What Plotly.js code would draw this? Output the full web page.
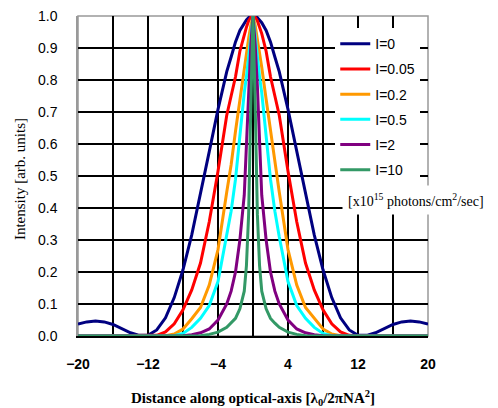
<!DOCTYPE html>
<html>
<head>
<meta charset="utf-8">
<script src="https://cdn.plot.ly/plotly-3.0.1.min.js"></script>
<style>html,body{margin:0;padding:0;background:#fff;}#chart{width:498px;height:408px;}</style>
</head>
<body>
<div id="chart"></div>
<script>
// Distance along optical axis
const distance = [-20,-19,-18,-17,-16,-15,-14,-13,-12,-11,-10,-9,-8,-7,-6,-5,-4,-3,-2.5,-2,-1.5,-1,-0.75,-0.5,-0.25,
  0,
  0.25,0.5,0.75,1,1.5,2,2.5,3,4,5,6,7,8,9,10,11,12,13,14,15,16,17,18,19,20];

const seriesNames = ["I=0","I=0.05","I=0.2","I=0.5","I=2","I=10"];

const intensityI0 = [0.037,0.044,0.047,0.044,0.036,0.023,0.010,0.002,0.002,0.019,0.057,0.120,0.207,0.316,0.442,0.576,0.708,0.826,0.872,0.919,0.955,0.979,0.988,0.995,0.999,
  1.0,
  0.999,0.995,0.988,0.979,0.955,0.919,0.872,0.826,0.708,0.576,0.442,0.316,0.207,0.120,0.057,0.019,0.002,0.002,0.010,0.023,0.036,0.044,0.047,0.044,0.037];

const intensityI005 = [0,0,0,0,0,0,0,0,0,0.002,0.013,0.038,0.082,0.144,0.228,0.357,0.515,0.69,0.75,0.81,0.89,0.945,0.965,0.985,0.996,
  1.0,
  0.996,0.985,0.965,0.945,0.89,0.81,0.75,0.69,0.515,0.357,0.228,0.144,0.082,0.038,0.013,0.002,0,0,0,0,0,0,0,0,0];

const intensityI02 = [0,0,0,0,0,0,0,0,0,0,0.001,0.006,0.022,0.054,0.089,0.159,0.27,0.45,0.535,0.64,0.74,0.84,0.89,0.93,0.97,
  1.0,
  0.97,0.93,0.89,0.84,0.74,0.64,0.535,0.45,0.27,0.159,0.089,0.054,0.022,0.006,0.001,0,0,0,0,0,0,0,0,0,0];

const intensityI05 = [0,0,0,0,0,0,0,0,0,0,0,0.001,0.008,0.027,0.055,0.095,0.17,0.31,0.39,0.49,0.63,0.76,0.81,0.87,0.94,
  1.0,
  0.94,0.87,0.81,0.76,0.63,0.49,0.39,0.31,0.17,0.095,0.055,0.027,0.008,0.001,0,0,0,0,0,0,0,0,0,0,0];

const intensityI2 = [0,0,0,0,0,0,0,0,0,0,0,0,0.001,0.004,0.01,0.022,0.05,0.1,0.14,0.2,0.3,0.44,0.6,0.78,0.91,
  1.0,
  0.91,0.78,0.6,0.44,0.3,0.2,0.14,0.1,0.05,0.022,0.01,0.004,0.001,0,0,0,0,0,0,0,0,0,0,0,0];

const intensityI10 = [0,0,0,0,0,0,0,0,0,0,0,0,0,0,0.001,0.005,0.012,0.027,0.04,0.055,0.085,0.14,0.22,0.38,0.72,
  1.0,
  0.72,0.38,0.22,0.14,0.085,0.055,0.04,0.027,0.012,0.005,0.001,0,0,0,0,0,0,0,0,0,0,0,0,0,0];

const seriesColors = ["#000080","#ff0000","#ff9900","#00ffff","#800080","#339966"];
const allSeries = [intensityI0,intensityI005,intensityI02,intensityI05,intensityI2,intensityI10];

const xTickVals = [-20,-16,-12,-8,-4,0,4,8,12,16,20];
const xTickText = ["\u221220","","\u221212","","\u22124","","4","","12","","20"];

const traces = allSeries.map((ys,i)=>({
  x: distance, y: ys, type:'scatter', mode:'lines', name: seriesNames[i],
  legendgroup: 'g'+i,
  line:{color: seriesColors[i], width:3}
}));

const layout = {
  width:498, height:408,
  margin:{l:78, r:70, t:16, b:72},
  paper_bgcolor:'#fff', plot_bgcolor:'#fff',
  showlegend:true,
  legend:{x:0.735, y:0.962, xanchor:'left', yanchor:'top', bgcolor:'#fff', borderwidth:0,
    font:{family:'Arial, Liberation Sans', size:14, color:'#000'}, tracegroupgap:4, itemwidth:30},
  xaxis:{range:[-20,20], tickmode:'array', tickvals:xTickVals, ticktext:xTickText,
    showgrid:true, gridcolor:'#000', gridwidth:1.5, zeroline:true, zerolinecolor:'#000', zerolinewidth:1.5,
    showline:true, linecolor:'#000', linewidth:1.5,
    ticks:'outside', ticklen:14, tickcolor:'rgba(0,0,0,0)',
    tickfont:{family:'Arial, Liberation Sans', size:14, color:'#000', weight:'bold'},
    title:{text:'Distance along optical-axis [\u03bb<sub>0</sub>/2\u03c0NA<sup>2</sup>]',
      font:{family:'Liberation Serif, Times New Roman', size:15, color:'#000', weight:'bold'}, standoff:22}
  },
  yaxis:{range:[0,1.0], dtick:0.1, tick0:0, tickformat:'.1f',
    showgrid:true, gridcolor:'#000', gridwidth:1.5, zeroline:false,
    showline:true, linecolor:'#999', linewidth:1.5,
    ticks:'outside', ticklen:16, tickcolor:'rgba(0,0,0,0)',
    tickfont:{family:'Arial, Liberation Sans', size:14, color:'#000'}
  },
  shapes:[{type:'rect', xref:'paper', yref:'paper', x0:0, x1:1, y0:0, y1:1, line:{color:'#999', width:1.5}, layer:'below'}],
  annotations:[
    {text:'Intensity [arb. units]', textangle:-90, xref:'paper', yref:'paper', x:-0.166, y:0.49,
      xanchor:'center', yanchor:'middle', showarrow:false,
      font:{family:'Liberation Serif, Times New Roman', size:15, color:'#000'}},
    {text:'[x10<sup>15</sup> photons/cm<sup>2</sup>/sec]', xref:'paper', yref:'paper', x:0.755, y:0.425,
      xanchor:'left', yanchor:'middle', showarrow:false, bgcolor:'#fff', borderpad:5,
      font:{family:'Liberation Serif, Times New Roman', size:14, color:'#000'}}
  ]
};

Plotly.newPlot('chart', traces, layout, {displayModeBar:false, responsive:false});
</script>
</body>
</html>
